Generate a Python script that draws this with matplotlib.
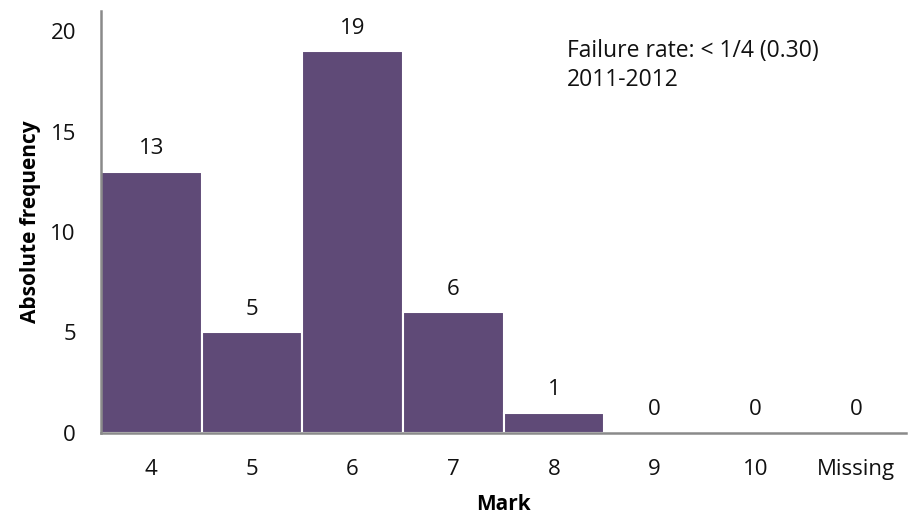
import matplotlib
matplotlib.use("Agg")
import matplotlib.pyplot as plt
import numpy as np

marks = ["4", "5", "6", "7", "8", "9", "10", "Missing"]
counts = [13, 5, 19, 6, 1, 0, 0, 0]
note = "Failure rate: < 1/4 (0.30)\n2011-2012"

BAR = "#5F4A77"
plt.rcParams["font.family"] = ["Open Sans", "DejaVu Sans"]

fig = plt.figure(figsize=(9.09, 5.21), dpi=100)
ax = fig.add_axes([0.111, 0.169, 0.886, 0.810])
x = np.arange(len(marks))
ax.bar(x, counts, width=1.0, color=BAR, edgecolor="white", lw=1.5)
for xi, c in zip(x, counts):
    ax.annotate(str(c), (xi, c), xytext=(0, 9), textcoords="offset points",
                ha="center", va="bottom", fontsize=16, color="#111")
ax.set_xlim(-0.5, len(marks) - 0.5)
ax.set_ylim(0, 21)
ax.set_yticks([0, 5, 10, 15, 20])
ax.set_xticks(x)
ax.set_xticklabels(marks)
ax.tick_params(length=0, labelsize=16, colors="#111")
ax.tick_params(axis="x", pad=19)
ax.tick_params(axis="y", pad=18)
for s in ["top", "right"]:
    ax.spines[s].set_visible(False)
for s in ["left", "bottom"]:
    ax.spines[s].set_color("#8a8a8a")
    ax.spines[s].set_linewidth(1.8)
ax.set_xlabel("Mark", fontsize=15, fontweight="bold", labelpad=10)
ax.set_ylabel("Absolute frequency", fontsize=15, fontweight="bold", labelpad=7)
ax.text(4.13, 19.6, note, fontsize=16.5, va="top", ha="left", color="#111", linespacing=1.3)
fig.savefig("out.png", dpi=100)
